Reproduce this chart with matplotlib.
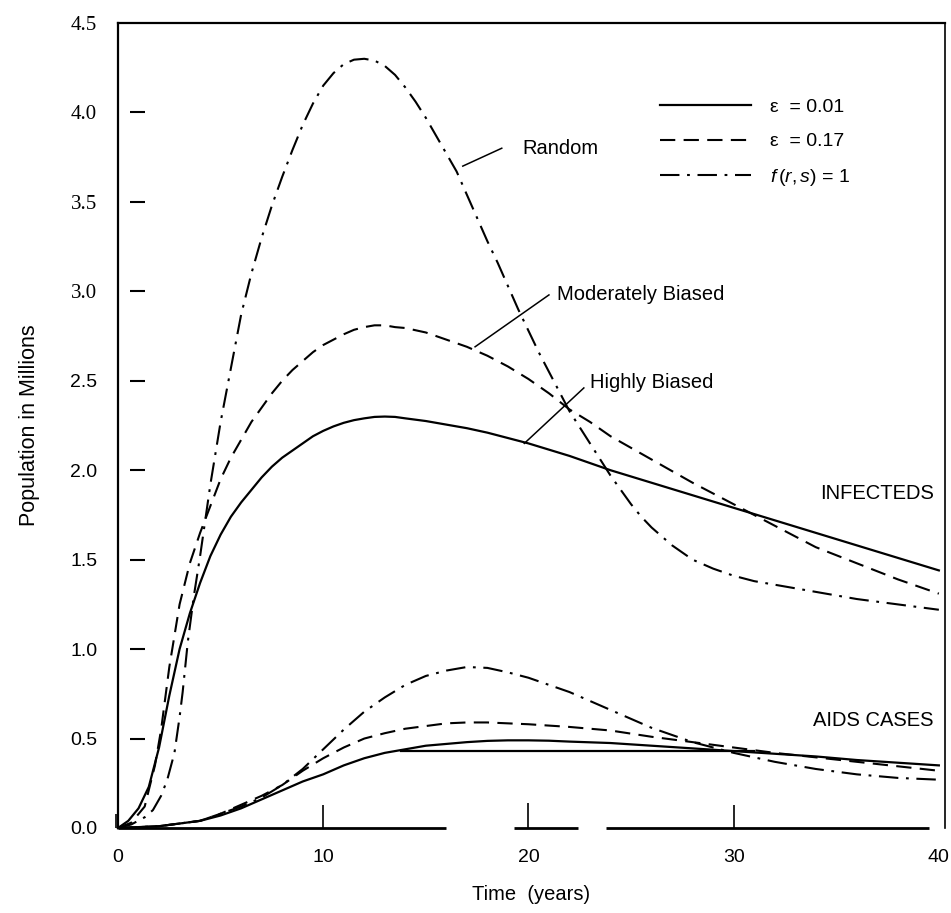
import matplotlib
matplotlib.use("Agg")  # no display
import matplotlib.pyplot as plt

plt.rcParams["font.family"] = "Liberation Sans"
plt.rcParams["mathtext.fontset"] = "custom"
plt.rcParams["mathtext.rm"] = "Liberation Sans"
plt.rcParams["mathtext.it"] = "Liberation Sans:italic"
plt.rcParams["lines.scale_dashes"] = False

# --- INFECTEDS (millions) ---
t_inf_hb = [0, 0.5, 1.0, 1.5, 2.0, 2.5, 3.0, 3.5, 4.0, 4.5, 5.0, 5.5, 6.0, 6.5, 7.0, 7.5, 8.0,
            8.5, 9.0, 9.5, 10, 10.5, 11, 11.5, 12, 12.5, 13, 13.5, 14, 15, 16, 17, 18, 19, 20,
            22, 24, 26, 28, 30, 32, 34, 36, 38, 40]
inf_hb = [0, 0.04, 0.11, 0.23, 0.45, 0.74, 1.00, 1.20, 1.37, 1.52, 1.64, 1.74, 1.82, 1.89, 1.96,
          2.02, 2.07, 2.11, 2.15, 2.19, 2.22, 2.245, 2.265, 2.28, 2.29, 2.298, 2.30, 2.298, 2.29,
          2.275, 2.255, 2.235, 2.21, 2.18, 2.15, 2.08, 2.00, 1.93, 1.86, 1.79, 1.72, 1.65, 1.58,
          1.51, 1.44]

t_inf_mb = [0, 0.65, 1.3, 1.8, 2.1, 2.5, 3.0, 3.5, 4.0, 4.5, 5.0, 5.5, 6.0, 6.5, 7.0, 7.5, 8.0,
            8.5, 9.0, 9.5, 10, 10.5, 11, 11.5, 12, 12.5, 13, 13.5, 14, 15, 16, 17, 18, 19, 20,
            21, 22, 23, 24, 26, 28, 30, 32, 34, 36, 38, 40]
inf_mb = [0, 0.03, 0.12, 0.35, 0.55, 0.90, 1.25, 1.48, 1.65, 1.80, 1.95, 2.07, 2.17, 2.27, 2.35,
          2.43, 2.50, 2.56, 2.61, 2.66, 2.70, 2.73, 2.76, 2.785, 2.80, 2.81, 2.81, 2.80, 2.795,
          2.77, 2.73, 2.69, 2.64, 2.58, 2.51, 2.43, 2.34, 2.27, 2.19, 2.06, 1.93, 1.81, 1.69,
          1.57, 1.48, 1.39, 1.31]

t_inf_rd = [0, 0.65, 1.3, 1.7, 2.1, 2.4, 2.75, 3.0, 3.15, 3.4, 3.7, 4.0, 4.5, 5.0, 5.5, 6.0, 6.5,
            7.0, 7.5, 8.0, 8.5, 9.0, 9.5, 10, 10.5, 11, 11.5, 12, 12.5, 13, 13.5, 14, 14.5, 15,
            15.5, 16, 16.5, 17, 17.5, 18, 18.5, 19, 19.5, 20, 20.5, 21, 21.5, 22, 22.5, 23, 23.5,
            24, 24.5, 25, 25.5, 26, 26.5, 27, 27.5, 28, 29, 30, 31, 32, 34, 36, 38, 40]
inf_rd = [0, 0.02, 0.06, 0.10, 0.18, 0.27, 0.42, 0.62, 0.76, 1.04, 1.30, 1.52, 1.92, 2.27, 2.57,
          2.87, 3.10, 3.30, 3.48, 3.64, 3.79, 3.93, 4.05, 4.15, 4.22, 4.27, 4.295, 4.30, 4.29,
          4.26, 4.21, 4.14, 4.06, 3.97, 3.87, 3.77, 3.67, 3.54, 3.41, 3.28, 3.16, 3.03, 2.90,
          2.78, 2.66, 2.55, 2.44, 2.33, 2.24, 2.15, 2.06, 1.97, 1.89, 1.81, 1.74, 1.68, 1.63,
          1.58, 1.54, 1.50, 1.45, 1.41, 1.38, 1.36, 1.32, 1.28, 1.25, 1.22]

# --- AIDS CASES (millions) ---
t_aids_hb = [0, 2, 4, 5, 6, 7, 8, 9, 10, 11, 12, 13, 14, 15, 16, 17, 18, 19, 20, 21, 22, 24,
             26, 28, 30, 32, 34, 36, 38, 40]
aids_hb = [0, 0.01, 0.04, 0.07, 0.11, 0.16, 0.21, 0.26, 0.30, 0.35, 0.39, 0.42, 0.44, 0.46, 0.47,
           0.48, 0.487, 0.49, 0.49, 0.488, 0.483, 0.475, 0.46, 0.445, 0.43, 0.415, 0.40, 0.38,
           0.365, 0.35]
t_aids_flat = [13.8, 31]
aids_flat = [0.43, 0.43]

t_aids_mb = [0, 2, 4, 5, 6, 7, 8, 9, 10, 11, 12, 13, 14, 15, 16, 17, 18, 19, 20, 22, 24, 26,
             28, 30, 32, 34, 36, 38, 40]
aids_mb = [0, 0.01, 0.04, 0.08, 0.13, 0.18, 0.24, 0.32, 0.39, 0.45, 0.50, 0.53, 0.555, 0.57,
           0.585, 0.59, 0.59, 0.585, 0.58, 0.565, 0.545, 0.51, 0.48, 0.45, 0.42, 0.395, 0.37,
           0.345, 0.32]

t_aids_rd = [0, 2, 4, 5, 6, 7, 8, 9, 10, 11, 12, 13, 14, 15, 16, 17, 18, 19, 20, 21, 22, 23,
             24, 25, 26, 27, 28, 29, 30, 31, 32, 33, 34, 35, 36, 38, 40]
aids_rd = [0, 0.01, 0.04, 0.08, 0.12, 0.17, 0.24, 0.33, 0.44, 0.55, 0.65, 0.73, 0.80, 0.85, 0.88,
           0.90, 0.895, 0.87, 0.84, 0.80, 0.76, 0.71, 0.66, 0.61, 0.56, 0.52, 0.48, 0.45, 0.42,
           0.395, 0.37, 0.35, 0.33, 0.315, 0.30, 0.28, 0.27]

# broken baseline and tick labels
zero_starts = [0, 19.3, 23.8]
zero_ends = [16.0, 22.4, 39.5]
x_ticks = [0, 10, 20, 30, 40]
y_ticks = [0, 0.5, 1.0, 1.5, 2.0, 2.5, 3.0, 3.5, 4.0, 4.5]
y_labels = ["0.0", "0.5", "1.0", "1.5", "2.0", "2.5", "3.0", "3.5", "4.0", "4.5"]
legend_labels = ["\u03b5  = 0.01", "\u03b5  = 0.17", r"$f\,(r,s)$ = 1"]

DASHED = (0, (11, 6))
DASHDOT = (0, (14, 5.5, 2, 5.5))

fig = plt.figure(figsize=(9.51, 9.13), dpi=100)
ax = fig.add_axes([0.1241, 0.0931, 0.8696, 0.8817])

kw = dict(color="black", clip_on=False)
l1, = ax.plot(t_inf_hb, inf_hb, lw=1.6, **kw)
l2, = ax.plot(t_inf_mb, inf_mb, lw=1.5, linestyle=DASHED, **kw)
l3, = ax.plot(t_inf_rd, inf_rd, lw=1.5, linestyle=DASHDOT, **kw)
ax.plot(t_aids_hb, aids_hb, lw=1.6, **kw)
ax.plot(t_aids_flat, aids_flat, lw=1.6, **kw)
ax.plot(t_aids_mb, aids_mb, lw=1.5, linestyle=DASHED, **kw)
ax.plot(t_aids_rd, aids_rd, lw=1.5, linestyle=DASHDOT, **kw)

ax.hlines([0] * len(zero_starts), zero_starts, zero_ends, color="black", lw=2, clip_on=False)
ax.vlines([10, 20, 30], 0, [0.13, 0.14, 0.13], color="black", lw=1.2)
ax.vlines(-0.12, 0, 0.08, color="black", lw=1.2, clip_on=False)

ax.set_xlim(0, 40.3)
ax.set_ylim(0, 4.5)
ax.set_xticks(x_ticks, [str(v) for v in x_ticks])
ax.set_yticks(y_ticks, y_labels)
ax.tick_params(length=0, labelsize=14)
ax.tick_params(axis="x", pad=15)
ax.tick_params(axis="y", pad=15)
for lbl, v in zip(ax.get_yticklabels(), y_ticks):
    if v >= 3.0:
        lbl.set_fontfamily("Liberation Serif")
        lbl.set_fontsize(15)

# detached tick dashes on the left
ax.hlines(y_ticks[1:-1], 0.0145, 0.033, transform=ax.get_yaxis_transform(),
          color="black", lw=1.5)

ax.spines["bottom"].set_visible(False)
ax.spines["left"].set_linewidth(1.6)
ax.spines["top"].set_linewidth(1.6)
ax.spines["right"].set_linewidth(1.2)

ax.set_xlabel("Time  (years)", fontsize=14.5, labelpad=14)
ax.set_ylabel("Population in Millions", fontsize=15.5, labelpad=22)

# annotations
ax.text(19.7, 3.80, "Random", fontsize=14.5, va="center")
ax.plot([18.7, 16.8], [3.80, 3.70], color="black", lw=1.1)
ax.text(21.4, 2.98, "Moderately Biased", fontsize=14.5, va="center")
ax.plot([21.0, 17.4], [2.98, 2.69], color="black", lw=1.1)
ax.text(23.0, 2.49, "Highly Biased", fontsize=14.5, va="center")
ax.plot([22.7, 19.8], [2.46, 2.15], color="black", lw=1.1)
ax.text(39.75, 1.87, "INFECTEDS", fontsize=14.5, va="center", ha="right")
ax.text(39.75, 0.60, "AIDS CASES", fontsize=14.5, va="center", ha="right")

ax.legend([l1, l2, l3], legend_labels, loc="upper left", bbox_to_anchor=(0.655, 0.906),
          frameon=False, fontsize=14, handlelength=4.7, handletextpad=0.95,
          labelspacing=0.85, borderpad=0, borderaxespad=0)

fig.savefig("out.png", dpi=100)
